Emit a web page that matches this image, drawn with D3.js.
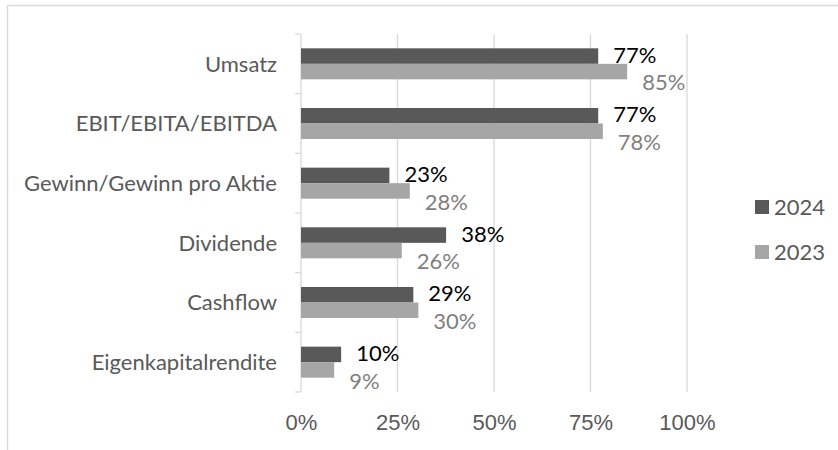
<!DOCTYPE html>
<html>
<head>
<meta charset="utf-8">
<script src="https://cdn.jsdelivr.net/npm/d3@7"></script>
<style>
  body { margin: 0; background: #fff; }
  svg { display: block; font-family: Lato, "Open Sans", sans-serif; }
</style>
</head>
<body>
<div id="chart"></div>
<script>
// data
const categories = ['Umsatz', 'EBIT/EBITA/EBITDA', 'Gewinn/Gewinn pro Aktie', 'Dividende', 'Cashflow', 'Eigenkapitalrendite'];
const series = ['2024', '2023'];
const values2024 = [77.0, 77.0, 22.9, 37.6, 29.1, 10.4];
const values2023 = [84.5, 78.2, 28.2, 26.1, 30.4, 8.6];
const xTicks = [0, 25, 50, 75, 100];

const colors = {'2024': '#595959', '2023': '#a6a6a6'};
const labelColors = {'2024': '#000000', '2023': '#7f7f7f'};

const W = 838, H = 450;
const margin = {top: 34, left: 301};
const plotW = 386, plotH = 358;

const svg = d3.select('#chart').append('svg')
    .attr('width', W)
    .attr('height', H);

// outer frame (only top and left edges are in the crop)
svg.append('line').attr('x1', 7.5).attr('x2', W).attr('y1', 5.5).attr('y2', 5.5)
    .attr('stroke', '#d9d9d9').attr('stroke-width', 1.5);
svg.append('line').attr('x1', 7.5).attr('x2', 7.5).attr('y1', 5.5).attr('y2', H)
    .attr('stroke', '#d9d9d9').attr('stroke-width', 1.5);

const g = svg.append('g').attr('transform', 'translate(' + margin.left + ',' + margin.top + ')');

const x = d3.scaleLinear().domain([0, 100]).range([0, plotW]);
const y = d3.scaleBand().domain(categories).range([0, plotH]).paddingInner(0.48).paddingOuter(0.24);
const y1 = d3.scaleBand().domain(series).range([0, y.bandwidth()]);

// gridlines
g.append('g')
    .selectAll('line')
    .data(xTicks.slice(1)).enter()
    .append('line')
    .attr('x1', d => x(d)).attr('x2', d => x(d))
    .attr('y1', 0).attr('y2', plotH)
    .attr('stroke', '#d9d9d9').attr('stroke-width', 1.3);

// x axis labels
const xAxis = d3.axisBottom(x).tickValues(xTicks).tickFormat(d => d + '%').tickSize(0);
g.append('g')
    .attr('transform', 'translate(0,' + plotH + ')')
    .call(xAxis)
    .call(a => a.select('.domain').remove())
    .selectAll('text')
    .attr('y', 31)
    .attr('dy', '0.32em')
    .attr('fill', '#595959')
    .style('font-size', '22px');

// category axis: line + ticks at band edges
const step = plotH / categories.length;
g.append('line').attr('x1', 0).attr('x2', 0).attr('y1', 0).attr('y2', plotH)
    .attr('stroke', '#d9d9d9').attr('stroke-width', 1.3);
g.append('g')
    .selectAll('line')
    .data(d3.range(categories.length + 1)).enter()
    .append('line')
    .attr('x1', -6).attr('x2', 0)
    .attr('y1', d => d * step).attr('y2', d => d * step)
    .attr('stroke', '#d9d9d9').attr('stroke-width', 1.3);

g.append('g')
    .selectAll('text')
    .data(categories).enter()
    .append('text')
    .attr('x', -24)
    .attr('y', d => y(d) + y.bandwidth() / 2)
    .attr('dy', '0.35em')
    .attr('text-anchor', 'end')
    .attr('fill', '#595959')
    .style('font-size', '22px')
    .text(d => d);

// bars
const rows = categories.map((c, i) => ({cat: c, '2024': values2024[i], '2023': values2023[i]}));

const groups = g.selectAll('.grp')
    .data(rows).enter()
    .append('g')
    .attr('class', 'grp')
    .attr('transform', d => 'translate(0,' + y(d.cat) + ')');

groups.selectAll('rect')
    .data(d => series.map(s => ({s: s, v: d[s]}))).enter()
    .append('rect')
    .attr('x', 0)
    .attr('y', d => y1(d.s))
    .attr('width', d => x(d.v))
    .attr('height', y1.bandwidth())
    .attr('fill', d => colors[d.s]);

// data labels (Excel pushes the 2023 label downwards)
groups.selectAll('.lbl')
    .data(d => series.map(s => ({s: s, v: d[s]}))).enter()
    .append('text')
    .attr('class', 'lbl')
    .attr('x', d => x(d.v) + 15)
    .attr('y', d => y1(d.s) + y1.bandwidth() / 2 + (d.s === '2023' ? 11 : -1))
    .attr('dy', '0.35em')
    .attr('fill', d => labelColors[d.s])
    .style('font-size', '22px')
    .text(d => Math.round(d.v) + '%');

// legend
const legend = svg.append('g').attr('transform', 'translate(755,200)');
const li = legend.selectAll('g')
    .data(series).enter()
    .append('g')
    .attr('transform', (d, i) => 'translate(0,' + (i * 45) + ')');
li.append('rect').attr('width', 14).attr('height', 14).attr('fill', d => colors[d]);
li.append('text')
    .attr('x', 19).attr('y', 7).attr('dy', '0.35em')
    .attr('fill', '#595959')
    .style('font-size', '22px')
    .text(d => d);
</script>
</body>
</html>
